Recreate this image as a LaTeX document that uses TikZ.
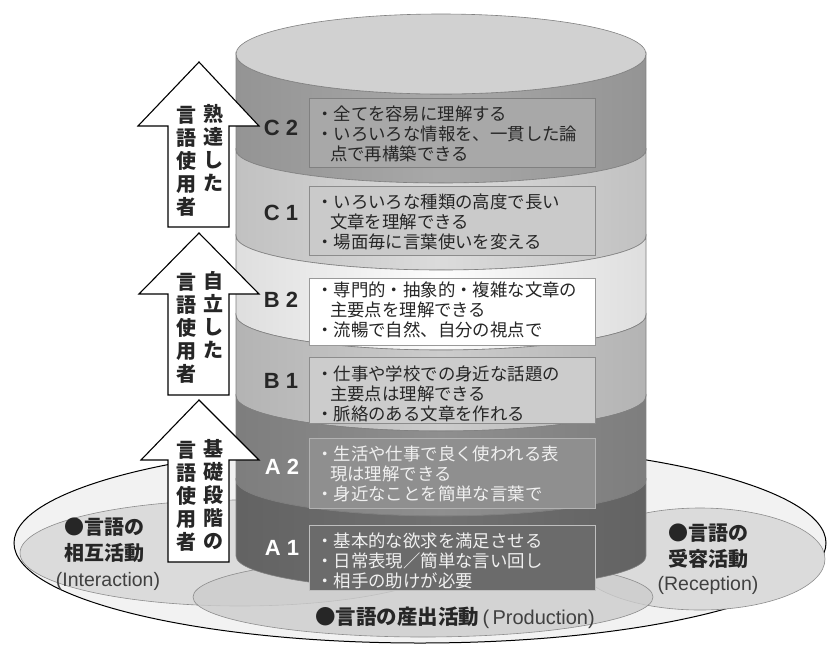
\documentclass[tikz,border=0pt]{standalone}
\usepackage{fontspec}
\setmainfont{Liberation Sans}
\newfontfamily\jp{Noto Sans CJK JP}
\definecolor{topc}{gray}{0.82}
\definecolor{c2c}{gray}{0.66}
\definecolor{c1c}{gray}{0.86}
\definecolor{b2c}{gray}{0.99}
\definecolor{b1c}{gray}{0.80}
\definecolor{a2c}{gray}{0.56}
\definecolor{a1c}{gray}{0.44}
\newcommand\cylband[5]{%
  \path[bandline, left color=#5!88!black, right color=#5!88!black, middle color=#5]
    (236,-#1) -- (236,-#3)
    arc[start angle=180, end angle=360, x radius=205pt, y radius=#4pt]
    -- (646,-#1)
    arc[start angle=0, end angle=-180, x radius=205pt, y radius=#2pt] -- cycle;}
\begin{document}
\begin{tikzpicture}[x=1pt,y=1pt,
  bandline/.style={draw=black!50, line width=0.6pt},
  txtbox/.style={draw=#1, line width=0.7pt, minimum width=286pt, inner sep=0pt},
  boxtxt/.style={anchor=west, align=left, inner sep=0pt, text=#1,
    font=\jp\fontsize{17.4}{20}\selectfont},
  lvl/.style={text=#1, inner sep=0pt, font=\bfseries\fontsize{22}{24}\selectfont},
  bigarrow/.style={draw=black, line width=1.1pt, fill=white, line join=miter},
  vcol/.style={align=center, inner sep=0pt, text=black!85,
    font=\jp\bfseries\fontsize{20}{23}\selectfont},
  blabel/.style={align=center, inner sep=0pt, text=black!85,
    font=\jp\bfseries\fontsize{20}{26}\selectfont},
  elab/.style={inner sep=0pt, text=black!75, font=\fontsize{19.5}{22}\selectfont},
  inell/.style={draw=black!45, line width=0.6pt, fill=black!14}
]
\useasboundingbox (0,0) rectangle (828,-649);
\fill[white] (0,0) rectangle (828,-649);

% ---- base ellipses ----
\draw[line width=1pt, fill=black!5] (420,-543) ellipse [x radius=406pt, y radius=100pt];
\draw[inell] (240,-553) ellipse [x radius=220pt, y radius=53pt];
\draw[inell] (700,-559) ellipse [x radius=125pt, y radius=51pt];
\draw[draw=black!45, line width=0.6pt, fill=black!20, fill opacity=0.8] (423,-597) ellipse [x radius=230pt, y radius=40pt];

% ---- cylinder ----
\cylband{54}{40}{150}{33}{c2c}
\cylband{150}{33}{236}{34}{c1c}
\cylband{236}{34}{315}{35}{b2c}
\cylband{315}{35}{396}{35}{b1c}
\cylband{396}{35}{480}{36}{a2c}
\cylband{480}{36}{556}{34}{a1c}
\draw[bandline, fill=topc] (441,-54) ellipse [x radius=205pt, y radius=40pt];

% ---- text boxes ----
\node[txtbox=black!50, fill=c2c, minimum height=69pt] (bc2) at (452,-132.5) {};
\node[txtbox=black!45, fill=c1c!92!black, minimum height=69pt] (bc1) at (452,-220.5) {};
\node[txtbox=black!40, fill=white, minimum height=67pt] (bb2) at (452,-311.5) {};
\node[txtbox=black!45, fill=b1c, minimum height=66pt] (bb1) at (452,-390) {};
\node[txtbox=black!30, fill=a2c, minimum height=70pt] (ba2) at (452,-473) {};
\node[txtbox=black!25, fill=a1c!95!black, minimum height=65pt] (ba1) at (452,-557.5) {};

\node[boxtxt=black!85] (tc2) at (316,-134) {・全てを容易に理解する\\・いろいろな情報を、一貫した論\\\hspace*{0.8em}点で再構築できる};
\node[boxtxt=black!85] (tc1) at (316,-222) {・いろいろな種類の高度で長い\\\hspace*{0.8em}文章を理解できる\\・場面毎に言葉使いを変える};
\node[boxtxt=black!85] (tb2) at (316,-310) {・専門的・抽象的・複雑な文章の\\\hspace*{0.8em}主要点を理解できる\\・流暢で自然、自分の視点で};
\node[boxtxt=black!85] (tb1) at (316,-394) {・仕事や学校での身近な話題の\\\hspace*{0.8em}主要点は理解できる\\・脈絡のある文章を作れる};
\node[boxtxt=black!6] (ta2) at (316,-474) {・生活や仕事で良く使われる表\\\hspace*{0.8em}現は理解できる\\・身近なことを簡単な言葉で};
\node[boxtxt=black!6] (ta1) at (316,-561) {・基本的な欲求を満足させる\\・日常表現／簡単な言い回し\\・相手の助けが必要};

% ---- level labels ----
\node[lvl=black!85] (lc2) at (281,-128) {C 2};
\node[lvl=black!85] (lc1) at (281,-213) {C 1};
\node[lvl=black!85] (lb2) at (281,-300) {B 2};
\node[lvl=black!85] (lb1) at (281,-381) {B 1};
\node[lvl=white] (la2) at (282,-467) {A 2};
\node[lvl=white] (la1) at (282,-548) {A 1};

% ---- block arrows ----
\draw[bigarrow] (199,-62) -- (259,-126) -- (229,-126) -- (229,-227) -- (168,-227) -- (168,-126) -- (138,-126) -- cycle;
\draw[bigarrow] (199,-233) -- (259,-294) -- (229,-294) -- (229,-395) -- (168,-395) -- (168,-294) -- (139,-294) -- cycle;
\draw[bigarrow] (199,-400) -- (259,-460) -- (229,-460) -- (229,-562) -- (168,-562) -- (168,-460) -- (141,-460) -- cycle;

\node[vcol] (a1r) at (213,-148) {熟\\達\\し\\た};
\node[vcol] (a1l) at (186,-161) {言\\語\\使\\用\\者};
\node[vcol] (a2r) at (213,-315) {自\\立\\し\\た};
\node[vcol] (a2l) at (186,-328) {言\\語\\使\\用\\者};
\node[vcol] (a3r) at (213,-494) {基\\礎\\段\\階\\の};
\node[vcol] (a3l) at (186,-496) {言\\語\\使\\用\\者};

% ---- bottom labels ----
\node[blabel] (inter) at (104,-540) {●言語の\\相互活動};
\node[elab] (intere) at (108,-581) {(Interaction)};
\node[blabel] (recep) at (708,-546) {●言語の\\受容活動};
\node[elab] (recepe) at (708,-585) {(Reception)};
\node[inner sep=0pt] (prod) at (455,-618) {{\jp\bfseries\fontsize{20.5}{24}\selectfont\color{black!85}●言語の産出活動}{\fontsize{20}{24}\selectfont\color{black!75}\,(\,Production)}};
\end{tikzpicture}
\end{document}
